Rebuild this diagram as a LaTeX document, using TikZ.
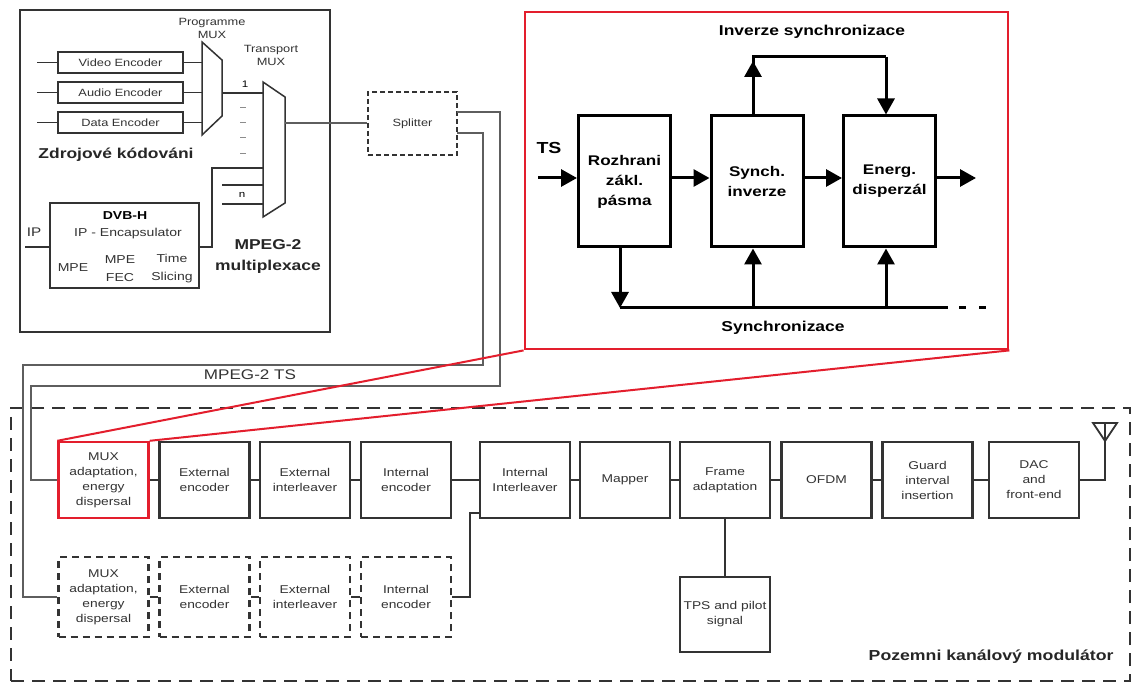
\documentclass[tikz,border=0pt]{standalone}
\usepackage{fontspec}
\setmainfont{Liberation Sans}[FakeStretch=1.22]
\usetikzlibrary{arrows.meta}
\definecolor{redc}{HTML}{E31E2D}
\definecolor{dk}{HTML}{333333}
\definecolor{gl}{HTML}{5E5E5E}
\begin{document}
\begin{tikzpicture}[x=1pt,y=-1pt,
 enc/.style={draw=dk, line width=1.5pt, minimum width=125pt, minimum height=21pt, inner sep=1pt, font=\fontsize{10.5}{11}\selectfont, text=black!80},
 mbox/.style={draw=dk, line width=2.4pt, minimum width=90pt, minimum height=76pt, inner sep=1pt, align=center, font=\fontsize{11.3}{15}\selectfont, text=black!80},
 dbox/.style={mbox, minimum height=80pt, dash pattern=on 7pt off 5pt},
 rblk/.style={draw=black, line width=3pt, minimum width=92pt, minimum height=131pt, inner sep=1pt, align=center, font=\bfseries\fontsize{14}{20}\selectfont},
 conn/.style={draw=dk, line width=2pt},
 thin/.style={draw=dk, line width=1.5pt},
 gline/.style={draw=gl, line width=2.5pt},
 arr/.style={draw=black, line width=3pt, -{Triangle[length=16pt,width=17pt]}},
 blab/.style={font=\bfseries\fontsize{14.3}{17}\selectfont, align=center},
 slab/.style={font=\fontsize{10.5}{13}\selectfont, align=center, text=black!80},
 mlab/.style={font=\fontsize{11.5}{13}\selectfont, align=center, text=black!80},
]
\useasboundingbox (0,0) rectangle (1135,684);
\fill[white] (0,0) rectangle (1135,684);

% ---------- source coding / multiplex ----------
\node[draw=dk, line width=1.8pt, minimum width=310pt, minimum height=322pt] (srcbox) at (175,171) {};
\node[enc] (venc) at (120.5,62.5) {Video Encoder};
\node[enc] (aenc) at (120.5,92.5) {Audio Encoder};
\node[enc] (denc) at (120.5,122.5) {Data Encoder};
\coordinate (vin) at (37,62.5);
\coordinate (ain) at (37,92.5);
\coordinate (din) at (37,122.5);
\draw[thin] (vin) -- (venc.west);
\draw[thin] (ain) -- (aenc.west);
\draw[thin] (din) -- (denc.west);
% programme mux
\coordinate (pm1) at (202,42); \coordinate (pm2) at (222,60);
\coordinate (pm3) at (222,116); \coordinate (pm4) at (202,135);
\draw[thin] (pm1) -- (pm2) -- (pm3) -- (pm4) -- cycle;
\coordinate (pmv) at (202,62.5); \coordinate (pma) at (202,92.5); \coordinate (pmd) at (202,122.5);
\draw[thin] (venc.east) -- (pmv);
\draw[thin] (aenc.east) -- (pma);
\draw[thin] (denc.east) -- (pmd);
\node[slab] (pmlab) at (212,28) {Programme\\MUX};
% transport mux
\coordinate (tm1) at (263,82); \coordinate (tm2) at (285,97);
\coordinate (tm3) at (285,203); \coordinate (tm4) at (263,217);
\draw[thin] (tm1) -- (tm2) -- (tm3) -- (tm4) -- cycle;
\node[slab] (tmlab) at (271,55) {Transport\\MUX};
\coordinate (pmout) at (222,93);
\coordinate (tmin1) at (263,93);
\draw[thin] (pmout) -- (tmin1);
\node[font=\fontsize{9.5}{10}\selectfont] (one) at (245,84) {1};
\foreach \yy/\nm in {107/da,122/db,137/dc,153/dd}{
  \coordinate (\nm1) at (240,\yy); \coordinate (\nm2) at (246,\yy);
  \draw[black!45, line width=0.8pt] (\nm1) -- (\nm2);
}
\coordinate (tmc) at (263,168);
\coordinate (tmx) at (222,185); \coordinate (tmxe) at (263,185);
\coordinate (tmn) at (222,204); \coordinate (tmne) at (263,204);
\draw[thin] (tmx) -- (tmxe);
\draw[thin] (tmn) -- (tmne);
\node[font=\fontsize{9.5}{10}\selectfont] (nn) at (242,195) {n};
\node[font=\bfseries\fontsize{14.3}{16}\selectfont, text=black!85] (zk) at (116,155) {Zdrojové kódováni};
\node[font=\bfseries\fontsize{14.3}{21}\selectfont, align=center, text=black!85] (mpx) at (268,256) {MPEG-2\\multiplexace};
% DVB-H
\node[draw=dk, line width=1.6pt, minimum width=149pt, minimum height=85pt] (dvb) at (124.5,245.5) {};
\node[font=\bfseries\fontsize{11.5}{13}\selectfont] (dvbt) at (125,216) {DVB-H};
\node[mlab] (ipe) at (128,234) {IP - Encapsulator};
\node[mlab] (mpe) at (73,268) {MPE};
\node[mlab, font=\fontsize{11.5}{18}\selectfont] (mfec) at (120,269) {MPE\\FEC};
\node[mlab, font=\fontsize{11.5}{18}\selectfont] (tsl) at (172,269) {Time\\Slicing};
\coordinate (ipin) at (25,247);
\draw[thin] (ipin) -- (dvb.west |- ipin);
\node[font=\fontsize{12.5}{14}\selectfont, text=black!80] (iplab) at (34,232) {IP};
\coordinate (dvbo) at (199,247);
\draw[thin] (dvbo) -| (212,168) -- (tmc);

% ---------- splitter ----------
\node[draw=dk, line width=1.6pt, dash pattern=on 5pt off 3pt, minimum width=89pt, minimum height=63pt, slab] (spl) at (412.5,123.5) {Splitter};
\coordinate (tmo) at (285,123.5);
\draw[gline, line width=2pt] (tmo) -- (spl.west);

% ---------- modulator ----------
\node[draw=dk, line width=2pt, dash pattern=on 13pt off 8pt, minimum width=1119pt, minimum height=273pt] (modbox) at (570.5,544.5) {};
\node[mbox, draw=redc] (b1) at (103.5,480) {MUX\\adaptation,\\energy\\dispersal};
\node[mbox] (b2) at (204.5,480) {External\\encoder};
\node[mbox] (b3) at (305,480) {External\\interleaver};
\node[mbox] (b4) at (406,480) {Internal\\encoder};
\node[mbox] (b5) at (525,480) {Internal\\Interleaver};
\node[mbox] (b6) at (625,480) {Mapper};
\node[mbox] (b7) at (725,480) {Frame\\adaptation};
\node[mbox] (b8) at (826.5,480) {OFDM};
\node[mbox] (b9) at (927.5,480) {Guard\\interval\\insertion};
\node[mbox] (b10) at (1034,480) {DAC\\and\\front-end};
\foreach \a/\b in {b1/b2,b2/b3,b3/b4,b4/b5,b5/b6,b6/b7,b7/b8,b8/b9,b9/b10}{
  \draw[conn] (\a.east) -- (\b.west);
}
\node[dbox] (c1) at (103.5,597) {MUX\\adaptation,\\energy\\dispersal};
\node[dbox] (c2) at (204.5,597) {External\\encoder};
\node[dbox] (c3) at (305,597) {External\\interleaver};
\node[dbox] (c4) at (406,597) {Internal\\encoder};
\foreach \a/\b in {c1/c2,c2/c3,c3/c4}{
  \draw[conn] (\a.east) -- (\b.west);
}
\coordinate (b5in) at (480,513);
\draw[conn] (c4.east) -| (470,513) -- (b5in);
\node[draw=dk, line width=2.4pt, minimum width=90pt, minimum height=75pt, inner sep=1pt, align=center, font=\fontsize{11.3}{15}\selectfont, text=black!80] (tps) at (725,614.5) {TPS and pilot\\signal};
\draw[conn] (b7.south) -- (tps.north);
% antenna
\coordinate (an1) at (1093,423); \coordinate (an2) at (1117,423); \coordinate (an3) at (1105,441);
\draw[dk, line width=1.8pt] (an1) -- (an2) -- (an3) -- cycle;
\coordinate (antop) at (1105,423);
\draw[conn] (b10.east) -| (antop);
\node[font=\bfseries\fontsize{14.5}{17}\selectfont, anchor=east, text=black!85] (pkm) at (1117,657) {Pozemni kanálový modulátor};

% splitter outputs
\coordinate (s1) at (457,112);
\coordinate (s2) at (457,133);
\draw[gline] (s1) -- (500,112) -- (500,386) -- (31,386) |- (b1.west);
\draw[gline] (s2) -- (483,133) -- (483,365) -- (23,365) |- (c1.west);
\node[font=\fontsize{14}{16}\selectfont, text=black!80] (tslab) at (250,375) {MPEG-2 TS};

% ---------- zoom box ----------
\node[draw=redc, line width=2.8pt, minimum width=483pt, minimum height=337pt] (rbox) at (766.5,180.5) {};
\node[rblk] (r1) at (624.5,181.5) {Rozhrani\\zákl.\\pásma};
\node[rblk] (r2) at (757,181.5) {Synch.\\inverze};
\node[rblk] (r3) at (889.5,181.5) {Energ.\\disperzál};
\coordinate (tsin) at (538,178);
\coordinate (rout) at (976,178);
\draw[arr] (tsin) -- (tsin -| r1.west);
\draw[arr] (r1.east |- tsin) -- (r2.west |- tsin);
\draw[arr] (r2.east |- tsin) -- (r3.west |- tsin);
\draw[arr] (r3.east |- tsin) -- (rout);
\node[font=\bfseries\fontsize{16}{18}\selectfont] (tslbl) at (549,148) {TS};
% inverze synchronizace
\coordinate (iv1) at (753,57);
\coordinate (iv2) at (886,57);
\draw[line width=3pt] (r2.north -| iv1) -- (iv1) -- (iv2);
\draw[arr] (iv2) -- (iv2 |- r3.north);
\draw[arr] (r2.north -| iv1) -- (753,61);
\node[blab] (ivlab) at (812,32) {Inverze synchronizace};
% synchronizace bus
\coordinate (sb1) at (620,308);
\coordinate (sb2) at (948,308);
\draw[line width=3pt] (sb1) -- (sb2);
\draw[arr] (r1.south -| sb1) -- (sb1);
\coordinate (sbm) at (753,308);
\coordinate (sbr) at (886,308);
\draw[arr] (sbm) -- (sbm |- r2.south);
\draw[arr] (sbr) -- (sbr |- r3.south);
\coordinate (dt1) at (959,308); \coordinate (dt2) at (966,308);
\coordinate (dt3) at (979,308); \coordinate (dt4) at (986,308);
\draw[line width=3pt] (dt1) -- (dt2);
\draw[line width=3pt] (dt3) -- (dt4);
\node[blab] (sylab) at (783,328) {Synchronizace};

% red zoom lines
\draw[redc, line width=2pt] (rbox.south west) -- (b1.north west);
\draw[redc, line width=2pt] (rbox.south east) -- (b1.north east);
\end{tikzpicture}
\end{document}
